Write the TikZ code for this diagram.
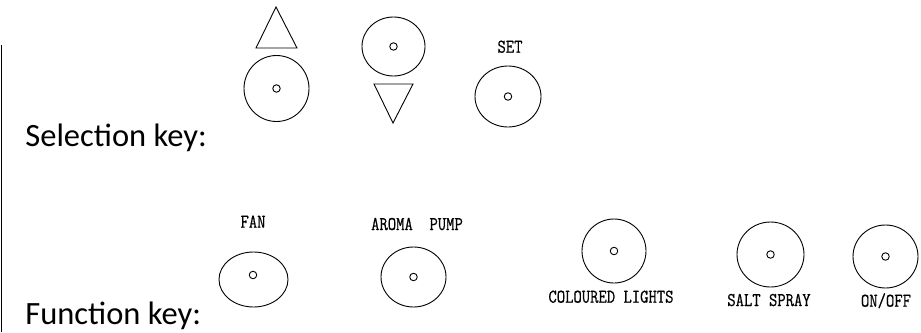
\documentclass[tikz,border=0pt]{standalone}
\usepackage{fontspec}
\usetikzlibrary{positioning,shapes.geometric}
\newfontfamily\captionfont{Carlito}
\newfontfamily\panelfont[FakeStretch=0.83,FakeBold=0.6]{Latin Modern Mono}

\begin{document}
\begin{tikzpicture}[x=1pt,y=-1pt,line width=0.9pt,
  btn/.style={draw,ellipse,inner sep=0pt},
  hole/.style={draw,circle,inner sep=0pt,minimum size=7.5pt,line width=0.9pt},
  lbl/.style={font=\panelfont\fontsize{19.5}{19.5}\selectfont,inner sep=0pt},
  caption/.style={font=\captionfont\fontsize{32.5}{32.5}\selectfont,inner sep=0pt,anchor=base west}]
\useasboundingbox (0,0) rectangle (921,332);
% frame edge on the left
\draw[line width=1.6pt] (1.5,45) -- (1.5,332);
\node[caption] (selkey) at (25,146) {Selection key:};
\node[caption] (funkey) at (25,324) {Function key:};

% selection keys
\draw (256,48) -- (276,7) -- (297,48) -- cycle;
\node[btn,minimum width=65pt,minimum height=66pt] (up) at (276.5,88.5) {};
\node[hole] (uphole) at (up.center) {};
\node[btn,minimum width=63pt,minimum height=59pt] (down) at (393.5,46.5) {};
\node[hole] (downhole) at (down.center) {};
\draw (374,84) -- (413,84) -- (393,123) -- cycle;
\node[btn,minimum width=66pt,minimum height=61pt] (set) at (508,96.5) {};
\node[hole] (sethole) at (set.center) {};
\node[lbl,anchor=base] (setlbl) at (510,52.7) {SET};

% function keys
\node[btn,minimum width=69pt,minimum height=55pt] (fan) at (253.5,279.5) {};
\node[hole] (fanhole) at (253,275) {};
\node[lbl,anchor=base] (fanlbl) at (253,227.7) {FAN};
\node[btn,minimum width=65pt,minimum height=60pt] (aroma) at (413.5,277) {};
\node[hole] (aromahole) at (aroma.center) {};
\node[lbl,anchor=base] (aromalbl) at (417,230) {AROMA~~PUMP};
\node[btn,minimum width=64pt,minimum height=64pt] (lights) at (614,251) {};
\node[hole] (lightshole) at (lights.center) {};
\node[lbl,anchor=base] (lightslbl) at (611,302.7) {COLOURED LIGHTS};
\node[btn,minimum width=67pt,minimum height=65pt] (salt) at (770.5,254.5) {};
\node[hole] (salthole) at (salt.center) {};
\node[lbl,anchor=base] (saltlbl) at (769,306) {SALT SPRAY};
\node[btn,minimum width=65pt,minimum height=63pt] (power) at (885.5,256.5) {};
\node[hole] (powerhole) at (power.center) {};
\node[lbl,anchor=base] (powerlbl) at (886,306.7) {ON/OFF};
\end{tikzpicture}
\end{document}
